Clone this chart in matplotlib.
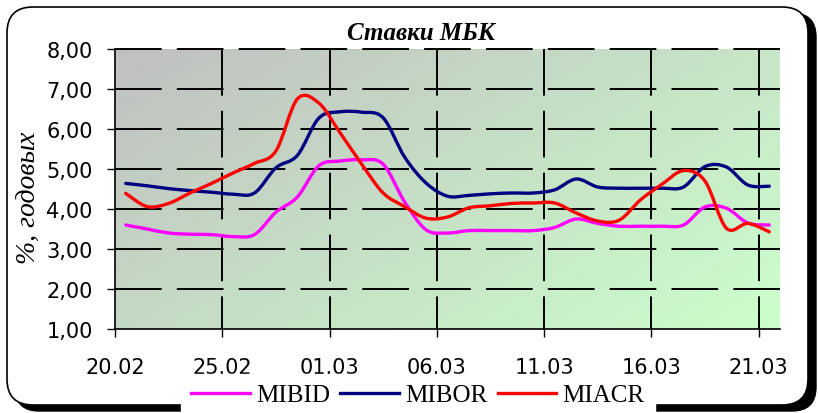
import numpy as np
import matplotlib
matplotlib.use("Agg")
import matplotlib.pyplot as plt
from matplotlib.path import Path
from matplotlib.patches import PathPatch, FancyBboxPatch
from matplotlib.lines import Line2D
from matplotlib.transforms import IdentityTransform

# -----------------------------
# Data: daily rates 20.02 - 21.03 (2004), % annual
# -----------------------------
tick_labels = ["20.02", "25.02", "01.03", "06.03", "11.03", "16.03", "21.03"]
tick_days = [0, 5, 10, 15, 20, 25, 30]

mibid = [3.60, 3.50, 3.40, 3.37, 3.36, 3.31, 3.36, 3.92, 4.30, 5.08, 5.20,
         5.23, 5.12, 4.18, 3.48, 3.40, 3.46, 3.46, 3.46, 3.46, 3.54, 3.75,
         3.64, 3.57, 3.57, 3.57, 3.60, 4.05, 4.02, 3.65, 3.60]
mibor = [4.64, 4.58, 4.51, 4.46, 4.42, 4.37, 4.40, 5.03, 5.34, 6.27, 6.43,
         6.42, 6.28, 5.30, 4.65, 4.32, 4.34, 4.38, 4.40, 4.40, 4.48, 4.75,
         4.55, 4.52, 4.52, 4.52, 4.55, 5.06, 5.05, 4.60, 4.57]
miacr = [4.39, 4.06, 4.14, 4.40, 4.64, 4.90, 5.14, 5.45, 6.75, 6.65, 5.90,
         5.12, 4.40, 4.06, 3.77, 3.80, 4.03, 4.08, 4.14, 4.15, 4.15, 3.90,
         3.70, 3.72, 4.23, 4.62, 4.96, 4.70, 3.52, 3.64, 3.43]

series = [("MIBID", mibid, "#ff00ff"),
          ("MIBOR", mibor, "#000080"),
          ("MIACR", miacr, "#ff0000")]

# points sit in the middle of each day's slot
days = np.arange(len(mibid)) + 0.5


def smooth_path(x, y):
    # Excel-like smoothed line: cubic bezier through every point
    pts = np.column_stack([x, y])
    verts = [pts[0]]
    codes = [Path.MOVETO]
    n = len(pts)
    for i in range(n - 1):
        p0 = pts[max(i - 1, 0)]
        p1 = pts[i]
        p2 = pts[i + 1]
        p3 = pts[min(i + 2, n - 1)]
        verts += [p1 + (p2 - p0) / 6, p2 - (p3 - p1) / 6, p2]
        codes += [Path.CURVE4] * 3
    return Path(verts, codes)


fig = plt.figure(figsize=(8.18, 4.14), dpi=100)
fig.patch.set_facecolor("white")

# rounded frame with shadow (pixel coords)
shadow = FancyBboxPatch((15, 2), 801, 398, boxstyle="round,pad=0,rounding_size=24",
                        transform=IdentityTransform(), facecolor="black",
                        edgecolor="black", zorder=-2)
frame = FancyBboxPatch((7, 8), 801, 398, boxstyle="round,pad=0,rounding_size=26",
                       transform=IdentityTransform(), facecolor="white",
                       edgecolor="black", linewidth=1.2, zorder=-1)
fig.patches.extend([shadow, frame])

ax = fig.add_axes([115 / 818, 84 / 414, 665 / 818, 280 / 414])

# diagonal gradient grey -> light green
gx, gy = np.meshgrid(np.linspace(0, 1, 200), np.linspace(1, 0, 100))
t = np.clip((gx * 0.6 + (1 - gy) * 0.4), 0, 1)
c0 = np.array([192, 192, 192]) / 255
c1 = np.array([204, 255, 204]) / 255
grad = c0 + (c1 - c0) * t[..., None]
ax.imshow(grad, extent=[0, 31, 1, 8], aspect="auto", zorder=0,
          interpolation="bilinear")

# dashed grid, 47 px dash / 15 px gap; verticals start from the top
hl = ax.hlines(range(2, 9), 0, 31, colors="black", linewidths=1.4,
               linestyles=(0, (24, 7.8)), zorder=2.5, clip_on=False)
vl = ax.vlines(tick_days[1:], 8, 1, colors="black", linewidths=1.4,
               linestyles=(0, (24, 7.8)), zorder=2.5)
hl.set_snap(True)
vl.set_snap(True)

for name, vals, col in series:
    patch = PathPatch(smooth_path(days, vals), facecolor="none", edgecolor=col,
                      lw=2.4, capstyle="round", joinstyle="round", zorder=3)
    ax.add_patch(patch)

ax.set_xticks(tick_days)
ax.set_xticklabels(tick_labels)
ax.set_yticks(range(1, 9))
ax.set_yticklabels([f"{v},00" for v in range(1, 9)])
ax.set_xlim(0, 31)
ax.set_ylim(1, 8)
ax.tick_params(axis="both", labelsize=15, length=6, width=1.0, color="black",
               direction="out")
ax.tick_params(axis="x", pad=14)
ax.tick_params(axis="y", pad=10)
for side in ["top", "right"]:
    ax.spines[side].set_visible(False)
for side in ["left", "bottom"]:
    ax.spines[side].set_linewidth(1.2)
    ax.spines[side].set_zorder(4)

fig.text(421 / 818, 1 - 33 / 414, "Ставки МБК", ha="center", va="center",
         family="Liberation Serif", weight="bold", style="italic", fontsize=18)
fig.text(29 / 818, 1 - 198 / 414, "%, годовых", ha="center", va="center",
         rotation=90, family="Liberation Serif", style="italic", fontsize=20)

handles = [Line2D([], [], color=col, lw=2.4) for _, _, col in series]
leg = fig.legend(handles, [s[0] for s in series], loc="center",
                 bbox_to_anchor=(418 / 818, 1 - 396 / 414), ncol=3,
                 frameon=True, fancybox=False, facecolor="white",
                 edgecolor="white", framealpha=1,
                 prop={"family": "Liberation Serif", "size": 18},
                 handlelength=2.35, handletextpad=0.25, columnspacing=0.4,
                 borderpad=0.4)

fig.savefig("out.png", dpi=100)
